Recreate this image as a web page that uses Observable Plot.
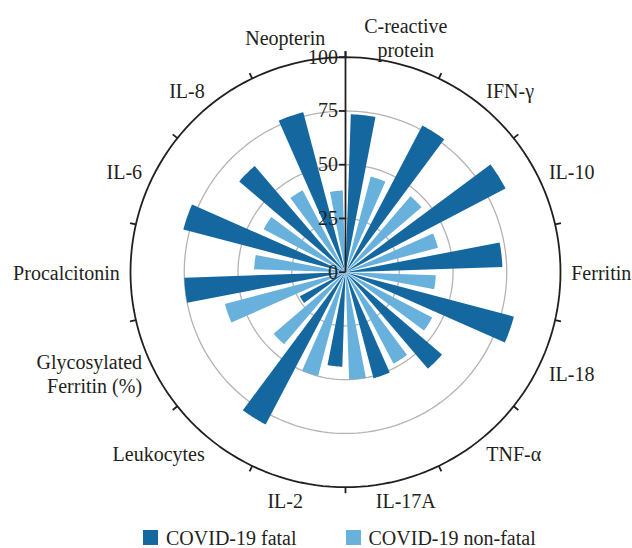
<!DOCTYPE html>
<html><head><meta charset="utf-8">
<script src="https://cdn.jsdelivr.net/npm/d3@7"></script>
<script src="https://cdn.jsdelivr.net/npm/@observablehq/plot@0.6"></script>
<style>
html,body{margin:0;padding:0;background:#fff;overflow:hidden;width:632px;height:548px}
body{font-family:"Liberation Serif","DejaVu Serif",serif;color:#231f20;position:relative}
#legend{position:absolute;left:143px;top:528px;font-size:20px;line-height:20px;white-space:nowrap}
#legend .item{display:inline-block;margin-right:49px}
#legend .sw{display:inline-block;width:15px;height:15px;margin-right:8px;vertical-align:baseline}
</style></head><body><div id="chart"></div><div id="legend"></div>
<script>
const categories = ["C-reactive\nprotein","IFN-γ","IL-10","Ferritin","IL-18","TNF-α","IL-17A","IL-2","Leukocytes","Glycosylated\nFerritin (%)","Procalcitonin","IL-6","IL-8","Neopterin"];
const fatal    = [73.5, 77, 84, 73, 81, 59, 51, 44, 80, 24, 75, 78, 65, 77];
const nonFatal = [46, 46.5, 44.5, 42, 45.5, 48, 50, 50, 44, 58, 42.5, 43, 43, 38];
const radialTicks = [0, 25, 50, 75, 100];
const gridValues = [25, 50, 75];
const seriesNames = ["COVID-19 fatal", "COVID-19 non-fatal"];
const seriesColors = ["#15689f", "#67b1dc"];

const n = categories.length;
const step = 360 / n, slot = step / 2, barFrac = 0.7;
const rmax = radialTicks[radialTicks.length - 1];
const tickLen = 2.8;
const rad = d => d * Math.PI / 180;
const polar = (v, deg) => ({x: v * Math.sin(rad(deg)), y: v * Math.cos(rad(deg))});

const wedges = [];
categories.forEach((c, i) => {
  [fatal[i], nonFatal[i]].forEach((v, s) => {
    const mid = i * step + s * slot + slot / 2, half = slot * barFrac / 2;
    const id = i + "-" + s;
    wedges.push({id, s, ...polar(0, mid)});
    for (let k = 0; k <= 16; k++) wedges.push({id, s, ...polar(v, mid - half + 2 * half * k / 16)});
  });
});
const circle = (t) => d3.range(0, 361, 2).map(a => ({t, ...polar(t, a)}));
const gridPts = gridValues.flatMap(circle);
const outerPts = circle(rmax);
const outerTicks = d3.range(n).map(i => { const a = polar(rmax, i * step), b = polar(rmax + tickLen, i * step); return {x1: a.x, y1: a.y, x2: b.x, y2: b.y}; });

const labelRx = 105, labelRy = 108;
const labels = categories.map((c, i) => {
  const a = i * step + step / 2, s = Math.sin(rad(a)), co = Math.cos(rad(a));
  const mid = Math.abs(s) < 0.3;
  return {c,
    x: labelRx * s * (mid ? 1.2 : 1),
    y: mid ? labelRx * co * (co > 0 ? 1.066 : 1.037) : labelRy * co,
    g: mid ? "m" : (s > 0 ? "s" : "e")};
});

const R = 110, k = 2.15, W = 632, H = 520, cx = 345, cy = 271.7;
const font = "'Liberation Serif', 'DejaVu Serif', serif";
const chart = Plot.plot({
  width: W, height: H,
  marginLeft: cx - R * k, marginRight: W - cx - R * k, marginTop: cy - R * k, marginBottom: H - cy - R * k,
  x: {domain: [-R, R], axis: null}, y: {domain: [-R, R], axis: null},
  style: {fontFamily: font, fontSize: "20px", background: "white", overflow: "visible", color: "#231f20"},
  marks: [
    Plot.line(gridPts, {x: "x", y: "y", z: "t", stroke: "#b3b3b3", strokeWidth: 1.3}),
    Plot.line(wedges.filter(d => d.s === 0), {x: "x", y: "y", z: "id", fill: seriesColors[0], stroke: "none"}),
    Plot.line(wedges.filter(d => d.s === 1), {x: "x", y: "y", z: "id", fill: seriesColors[1], stroke: "none"}),
    Plot.line(outerPts, {x: "x", y: "y", stroke: "#231f20", strokeWidth: 1.8}),
    Plot.link(outerTicks, {x1: "x1", y1: "y1", x2: "x2", y2: "y2", stroke: "#231f20", strokeWidth: 1.8}),
    Plot.link([0], {x1: 0, y1: 0, x2: 0, y2: rmax + tickLen, stroke: "#231f20", strokeWidth: 1.8}),
    Plot.link(radialTicks, {x1: -3, x2: 0, y1: d => d, y2: d => d, stroke: "#231f20", strokeWidth: 1.8}),
    Plot.text(radialTicks, {x: -3, y: d => d, text: d => String(d), textAnchor: "end", dx: -1, fill: "#231f20"}),
    Plot.text(labels.filter(d => d.g === "s"), {x: "x", y: "y", text: "c", textAnchor: "start", lineAnchor: "middle", lineHeight: 1.2, fill: "#231f20"}),
    Plot.text(labels.filter(d => d.g === "e"), {x: "x", y: "y", text: "c", textAnchor: "end", lineAnchor: "middle", lineHeight: 1.2, fill: "#231f20"}),
    Plot.text(labels.filter(d => d.g === "m"), {x: "x", y: "y", text: "c", textAnchor: "middle", lineAnchor: "middle", lineHeight: 1.2, fill: "#231f20"})
  ]
});
document.getElementById("chart").append(chart);

const legend = document.getElementById("legend");
seriesNames.forEach((name, i) => {
  const item = document.createElement("span");
  item.className = "item";
  const sw = document.createElement("span");
  sw.className = "sw"; sw.style.background = seriesColors[i];
  item.append(sw, document.createTextNode(name));
  legend.append(item);
});
</script></body></html>
